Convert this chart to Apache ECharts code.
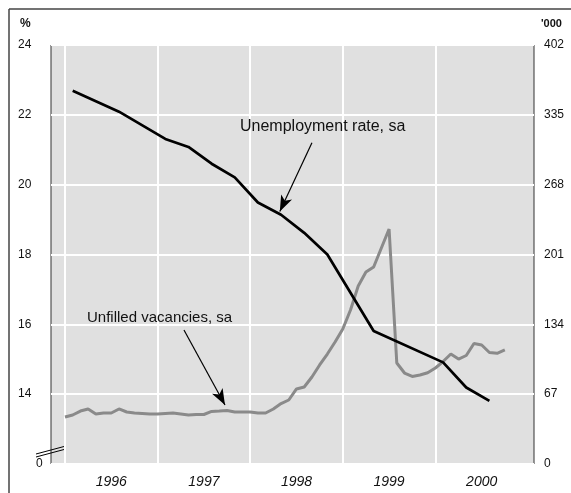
<!DOCTYPE html>
<html>
<head>
<meta charset="utf-8">
<script src="https://cdn.jsdelivr.net/npm/echarts@6/dist/echarts.min.js"></script>
<style>html,body{margin:0;padding:0;background:#fff}#c{width:571px;height:493px}</style>
</head>
<body>
<div id="c"></div>
<script>
// Unemployment rate, sa (%), survey month "YYYY-MM"
var unempMonths = ['1996-02','1996-08','1997-02','1997-05','1997-08','1997-11','1998-02','1998-05','1998-08','1998-11','1999-05','2000-02','2000-05','2000-08'];
var unempValues = [22.69,22.09,21.31,21.08,20.6,20.21,19.49,19.14,18.62,18.0,15.81,14.91,14.19,13.81];
// Unfilled vacancies, sa ('000), monthly from Jan 1996
var vacStart = '1996-01';
var vacValues = [45.1,47.0,50.8,52.8,48.0,48.9,48.9,52.8,49.9,48.9,48.5,48.0,
                 48.0,48.5,48.9,48.0,47.0,47.5,47.5,50.4,50.8,51.3,49.9,49.9,
                 49.9,48.9,48.9,52.8,58.0,61.4,72.0,73.9,83.5,95.0,105.5,117.0,
                 129.5,147.8,170.8,184.2,189.0,207.2,225.5,96.9,87.3,84.0,85.4,87.6,
                 92.1,98.3,105.5,100.7,104.1,115.6,114.2,107.0,106.2,109.4];
var years = [1996,1997,1998,1999,2000];
var leftTicks = [12,14,16,18,20,22,24];   // 12 shown as broken-axis "0"
var rightTicks = [0,67,134,201,268,335,402];

function ym(s){var p=s.split('-');return +p[0]+(+p[1]-1)/12;}
var unempData = unempMonths.map(function(m,i){return [ym(m),unempValues[i]];});
var v0 = ym(vacStart);
var vacData = vacValues.map(function(v,i){return [v0+i/12,v];});

var FONT = 'Liberation Sans, Arial, sans-serif';
var chart = echarts.init(document.getElementById('c'));
chart.setOption({
  animation:false,
  textStyle:{fontFamily:FONT},
  grid:{left:51,right:37,top:45,bottom:29,show:true,backgroundColor:'#e0e0e0',borderColor:'#333',borderWidth:1},
  xAxis:{type:'value',min:1995.849,max:2001.065,
    axisLine:{show:false},axisTick:{show:false},splitLine:{show:false},
    axisLabel:{customValues:years.map(function(y){return y+0.5;}),formatter:function(v){return String(Math.floor(v));},
      fontSize:14,fontStyle:'italic',color:'#111',margin:11,fontFamily:FONT}},
  yAxis:[
    {type:'value',min:leftTicks[0],max:leftTicks[leftTicks.length-1],interval:2,position:'left',
      axisLine:{show:false},axisTick:{show:false},
      splitLine:{show:true,lineStyle:{color:'#fff',width:2}},
      axisLabel:{align:'left',margin:33,fontSize:12,color:'#111',fontFamily:FONT,
        formatter:function(v){return v===12?'{z|0}':String(v);},
        rich:{z:{padding:[0,0,0,18],fontSize:12,color:'#111',fontFamily:FONT}}}},
    {type:'value',min:rightTicks[0],max:rightTicks[rightTicks.length-1],interval:67,position:'right',
      axisLine:{show:false},axisTick:{show:false},splitLine:{show:false},
      axisLabel:{align:'left',margin:10,fontSize:12,color:'#111',fontFamily:FONT}}
  ],
  series:[
    {type:'line',data:[],z:1,silent:true,
      markLine:{silent:true,z:1,symbol:['none','none'],label:{show:false},
        lineStyle:{color:'#fff',width:2,type:'solid'},
        data:years.map(function(y){return {xAxis:y};})}},
    {name:'Unfilled vacancies, sa',type:'line',yAxisIndex:1,data:vacData,showSymbol:false,z:3,
      lineStyle:{color:'#8a8a8a',width:3},
      markLine:{silent:true,z:6,symbol:['none','arrow'],symbolSize:[9,16],label:{show:false},
        lineStyle:{color:'#000',width:1.2,type:'solid'},
        data:[[{coord:[1997.285,128.6]},{coord:[1997.728,56.6]}]]}},
    {name:'Unemployment rate, sa',type:'line',data:unempData,showSymbol:false,z:4,
      lineStyle:{color:'#000',width:2.7},
      markLine:{silent:true,z:6,symbol:['none','arrow'],symbolSize:[9,16],label:{show:false},
        lineStyle:{color:'#000',width:1.2,type:'solid'},
        data:[[{coord:[1998.667,21.2]},{coord:[1998.32,19.23]}]]}}
  ],
  graphic:[
    {type:'line',shape:{x1:9,y1:9,x2:571,y2:9},style:{stroke:'#444',lineWidth:1.5},silent:true},
    {type:'line',shape:{x1:9,y1:9,x2:9,y2:493},style:{stroke:'#444',lineWidth:1.5},silent:true},
    {type:'text',left:20,top:18,z:100,style:{text:'%',font:'bold 12px '+FONT,fill:'#111'}},
    {type:'text',left:541,top:18,z:100,style:{text:"'000",font:'bold 11px '+FONT,fill:'#111'}},
    {type:'text',left:240,top:119,z:100,style:{text:'Unemployment rate, sa',font:'16px '+FONT,fill:'#111'}},
    {type:'text',left:87,top:310,z:100,style:{text:'Unfilled vacancies, sa',font:'15px '+FONT,fill:'#111'}},
    {type:'line',shape:{x1:36,y1:454,x2:64,y2:446.5},style:{stroke:'#000',lineWidth:1},silent:true,z:100},
    {type:'line',shape:{x1:36,y1:457,x2:64,y2:449.5},style:{stroke:'#000',lineWidth:1},silent:true,z:100}
  ]
});
</script>
</body>
</html>
